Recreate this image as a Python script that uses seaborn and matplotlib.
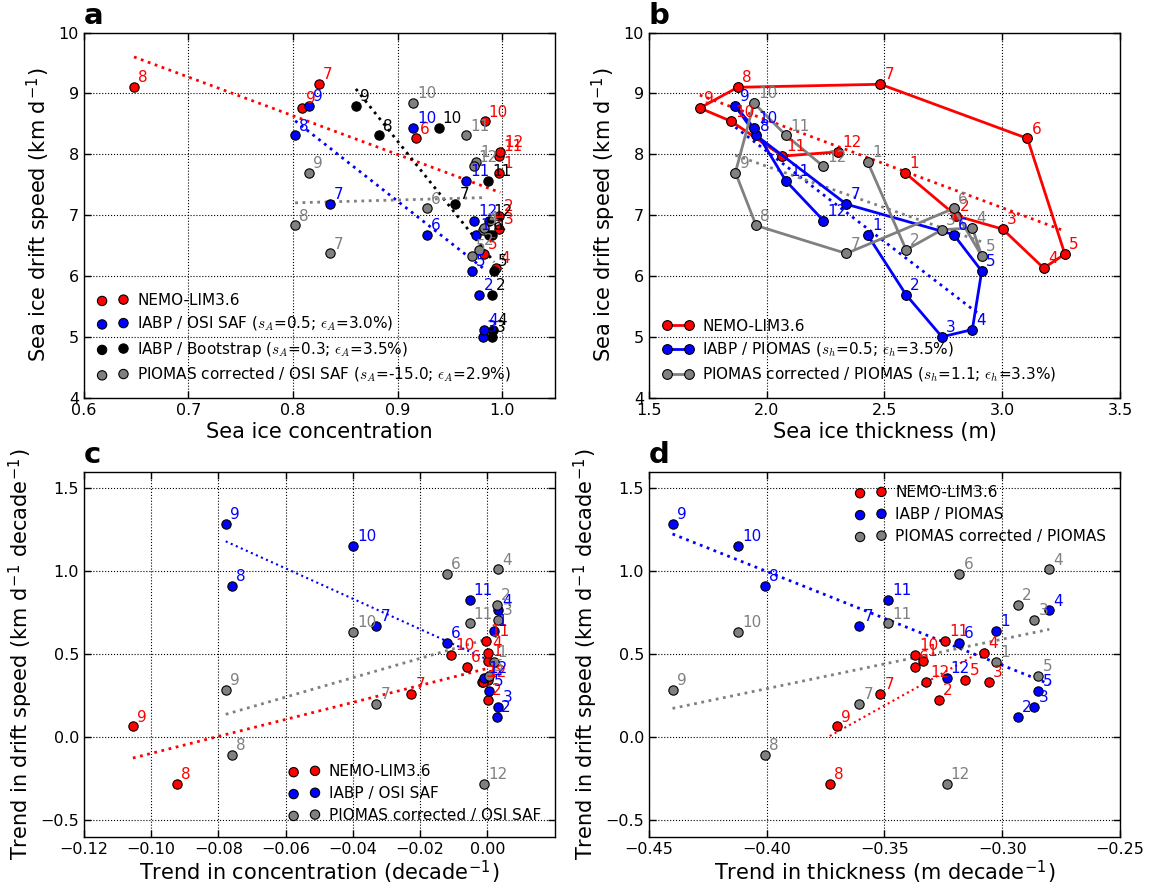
import numpy as np
import matplotlib
matplotlib.use('Agg')
import matplotlib.pyplot as plt
import seaborn as sns

months = list(range(1, 13))

# monthly mean drift speed (km/d)
speed_nemo = [7.69, 6.99, 6.77, 6.13, 6.36, 8.26, 9.15, 9.10, 8.76, 8.54, 7.97, 8.04]
speed_iabp = [6.67, 5.69, 5.00, 5.12, 6.08, 6.68, 7.18, 8.31, 8.79, 8.43, 7.56, 6.91]
speed_piomas = [7.87, 6.43, 6.76, 6.79, 6.33, 7.11, 6.37, 6.83, 7.70, 8.84, 8.31, 7.80]

# monthly mean concentration
conc_nemo = [0.997, 0.997, 0.997, 0.994, 0.982, 0.917, 0.8245, 0.648, 0.8086, 0.983, 0.997, 0.998]
conc_osisaf = [0.975, 0.978, 0.981, 0.982, 0.971, 0.928, 0.835, 0.802, 0.815, 0.915, 0.965, 0.973]
conc_bootstrap = [0.990, 0.990, 0.990, 0.991, 0.992, 0.987, 0.955, 0.882, 0.860, 0.939, 0.986, 0.987]

# monthly mean thickness (m)
thick_nemo = [2.589, 2.804, 3.002, 3.176, 3.266, 3.107, 2.483, 1.877, 1.716, 1.850, 2.067, 2.304]
thick_piomas = [2.429, 2.592, 2.744, 2.873, 2.913, 2.794, 2.338, 1.955, 1.867, 1.946, 2.082, 2.241]

# trends in drift speed (km/d per decade)
trend_nemo = [0.461, 0.225, 0.330, 0.507, 0.342, 0.423, 0.260, -0.284, 0.064, 0.497, 0.581, 0.332]
trend_iabp = [0.638, 0.119, 0.183, 0.763, 0.278, 0.565, 0.670, 0.909, 1.282, 1.151, 0.827, 0.358]
trend_piomas = [0.455, 0.797, 0.706, 1.010, 0.370, 0.984, 0.199, -0.107, 0.282, 0.632, 0.685, -0.280]

# trends in concentration (per decade)
ctrend_nemo = [0.0001, 0.0002, -0.0017, 0.0003, 0.0001, -0.0061, -0.0226, -0.0923, -0.1054, -0.0108, -0.0004, -0.0012]
ctrend_osisaf = [0.0018, 0.0027, 0.0032, 0.0032, 0.0006, -0.0121, -0.0331, -0.0759, -0.0778, -0.0399, -0.0053, -0.0009]

# trends in thickness (m per decade)
htrend_nemo = [-0.3335, -0.3270, -0.3058, -0.3078, -0.3157, -0.3372, -0.3517, -0.3732, -0.3702, -0.3369, -0.3243, -0.3325]
htrend_piomas = [-0.3025, -0.2935, -0.2864, -0.2800, -0.2847, -0.3182, -0.3607, -0.4008, -0.4400, -0.4123, -0.3483, -0.3236]

RED, BLUE, BLACK, GRAY = '#ff0000', '#0000ff', 'k', '#808080'

sns.set_style('whitegrid', {'grid.linestyle': ':', 'grid.color': 'k', 'axes.edgecolor': 'k'})
plt.rcParams['font.family'] = ['DejaVu Sans']
plt.rcParams['mathtext.fontset'] = 'cm'
plt.rcParams['axes.linewidth'] = 1.0
plt.rcParams['grid.linewidth'] = 0.8
for key in ['text.color', 'axes.labelcolor', 'xtick.color', 'ytick.color']:
    plt.rcParams[key] = 'k'


def add_series(ax, x, y, color, label, lines=False, fit_lw=2.0):
    if lines:
        sns.lineplot(x=x, y=y, sort=False, estimator=None, color=color, lw=2,
                     marker='o', markersize=7, markeredgecolor='k', markeredgewidth=0.8,
                     label=label, ax=ax, zorder=3)
    else:
        sns.scatterplot(x=x, y=y, color=color, s=45, edgecolor='k', linewidth=0.8,
                        label=label, ax=ax, zorder=3)
    # least squares trend over the range of the data
    sns.regplot(x=np.array(x), y=np.array(y), scatter=False, ci=None, truncate=True,
                color=color, line_kws={'ls': ':', 'lw': fit_lw}, ax=ax)
    for m, xi, yi in zip(months, x, y):
        ax.annotate(str(m), (xi, yi), xytext=(3, 3.5), textcoords='offset points',
                    color=color, fontsize=11, va='baseline', zorder=4)


def style_axes(ax, letter):
    ax.grid(True, ls=':', color='k', lw=0.8)
    ax.tick_params(direction='in', top=True, right=True, bottom=True, left=True,
                   length=5, width=1, labelsize=11.5, color='k', labelcolor='k')
    for sp in ax.spines.values():
        sp.set_color('k')
        sp.set_linewidth(1.0)
    ax.text(0.0, 1.008, letter, transform=ax.transAxes, fontsize=21,
            fontweight='bold', va='bottom', ha='left', color='k')


fig = plt.figure(figsize=(11.52, 8.84), dpi=100)
gs = fig.add_gridspec(2, 2, left=0.0727, right=0.9722, bottom=0.0535, top=0.9632,
                      wspace=0.2, hspace=0.202)
ax_a = fig.add_subplot(gs[0, 0])
ax_b = fig.add_subplot(gs[0, 1])
ax_c = fig.add_subplot(gs[1, 0])
ax_d = fig.add_subplot(gs[1, 1])

speed_label = r'Sea ice drift speed (km d$^{\mathregular{-1}}$)'
trend_label = r'Trend in drift speed (km d$^{\mathregular{-1}}$ decade$^{\mathregular{-1}}$)'

# a
add_series(ax_a, conc_nemo, speed_nemo, RED, 'NEMO-LIM3.6')
add_series(ax_a, conc_osisaf, speed_iabp, BLUE, r'IABP / OSI SAF ($s_A$=0.5; $\epsilon_A$=3.0%)')
add_series(ax_a, conc_bootstrap, speed_iabp, BLACK, r'IABP / Bootstrap ($s_A$=0.3; $\epsilon_A$=3.5%)')
add_series(ax_a, conc_osisaf, speed_piomas, GRAY, r'PIOMAS corrected / OSI SAF ($s_A$=-15.0; $\epsilon_A$=2.9%)')
ax_a.set_xlim(0.6, 1.05)
ax_a.set_ylim(4, 10)
ax_a.set_xticks([0.6, 0.7, 0.8, 0.9, 1.0])
ax_a.set_xticklabels(['0.6', '0.7', '0.8', '0.9', '1.0'])
ax_a.set_yticks(range(4, 11))
ax_a.set_xlabel('Sea ice concentration', fontsize=15, labelpad=3)
ax_a.set_ylabel(speed_label, fontsize=15)
ax_a.legend(loc='lower left', frameon=False, scatterpoints=2, fontsize=11,
            handletextpad=0.6, labelspacing=0.45)
style_axes(ax_a, 'a')

# b
add_series(ax_b, thick_nemo, speed_nemo, RED, 'NEMO-LIM3.6', lines=True)
add_series(ax_b, thick_piomas, speed_iabp, BLUE, r'IABP / PIOMAS ($s_h$=0.5; $\epsilon_h$=3.5%)', lines=True)
add_series(ax_b, thick_piomas, speed_piomas, GRAY, r'PIOMAS corrected / PIOMAS ($s_h$=1.1; $\epsilon_h$=3.3%)', lines=True)
ax_b.set_xlim(1.5, 3.5)
ax_b.set_ylim(4, 10)
ax_b.set_xticks([1.5, 2.0, 2.5, 3.0, 3.5])
ax_b.set_xticklabels(['1.5', '2.0', '2.5', '3.0', '3.5'])
ax_b.set_yticks(range(4, 11))
ax_b.set_xlabel('Sea ice thickness (m)', fontsize=15, labelpad=3)
ax_b.set_ylabel(speed_label, fontsize=15)
ax_b.legend(loc='lower left', frameon=False, numpoints=2, fontsize=11,
            handletextpad=0.6, labelspacing=0.45)
style_axes(ax_b, 'b')

# c
add_series(ax_c, ctrend_nemo, trend_nemo, RED, 'NEMO-LIM3.6')
add_series(ax_c, ctrend_osisaf, trend_iabp, BLUE, 'IABP / OSI SAF', fit_lw=1.5)
add_series(ax_c, ctrend_osisaf, trend_piomas, GRAY, 'PIOMAS corrected / OSI SAF')
ax_c.set_xlim(-0.12, 0.02)
ax_c.set_ylim(-0.6, 1.6)
ax_c.set_xticks([-0.12, -0.10, -0.08, -0.06, -0.04, -0.02, 0.0])
ax_c.set_xticklabels(['\u22120.12', '\u22120.10', '\u22120.08', '\u22120.06',
                      '\u22120.04', '\u22120.02', '0.00'])
ax_c.set_yticks([-0.5, 0.0, 0.5, 1.0, 1.5])
ax_c.set_yticklabels(['\u22120.5', '0.0', '0.5', '1.0', '1.5'])
ax_c.set_xlabel(r'Trend in concentration (decade$^{\mathregular{-1}}$)', fontsize=15, labelpad=1)
ax_c.set_ylabel(trend_label, fontsize=15)
ax_c.legend(loc='lower right', frameon=False, scatterpoints=2, fontsize=11,
            handletextpad=0.6, labelspacing=0.45)
style_axes(ax_c, 'c')

# d
add_series(ax_d, htrend_nemo, trend_nemo, RED, 'NEMO-LIM3.6', fit_lw=1.5)
add_series(ax_d, htrend_piomas, trend_iabp, BLUE, 'IABP / PIOMAS')
add_series(ax_d, htrend_piomas, trend_piomas, GRAY, 'PIOMAS corrected / PIOMAS')
ax_d.set_xlim(-0.45, -0.25)
ax_d.set_ylim(-0.6, 1.6)
ax_d.set_xticks([-0.45, -0.40, -0.35, -0.30, -0.25])
ax_d.set_xticklabels(['\u22120.45', '\u22120.40', '\u22120.35', '\u22120.30', '\u22120.25'])
ax_d.set_yticks([-0.5, 0.0, 0.5, 1.0, 1.5])
ax_d.set_yticklabels(['\u22120.5', '0.0', '0.5', '1.0', '1.5'])
ax_d.set_xlabel(r'Trend in thickness (m decade$^{\mathregular{-1}}$)', fontsize=15, labelpad=1)
ax_d.set_ylabel(trend_label, fontsize=15)
ax_d.legend(loc='upper right', frameon=False, scatterpoints=2, fontsize=11,
            handletextpad=0.6, labelspacing=0.45)
style_axes(ax_d, 'd')

fig.savefig('out.png', dpi=100, facecolor='white')
